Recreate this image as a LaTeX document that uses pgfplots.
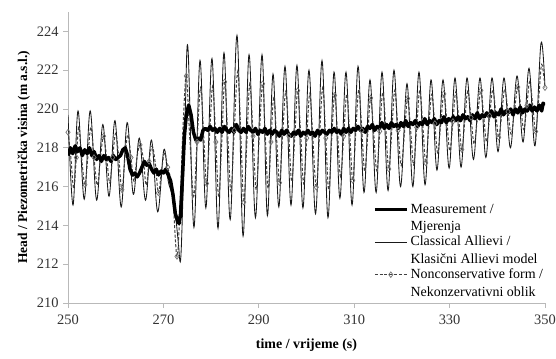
\documentclass[border=0pt]{standalone}
\usepackage{fontspec}
\setmainfont{Liberation Serif}
\usepackage{pgfplots}
\pgfplotsset{compat=1.18}
\begin{document}
\begin{tikzpicture}
\begin{axis}[name=ax, scale only axis, width=477bp, height=291bp,
  xmin=250, xmax=350, ymin=210, ymax=225,
  xtick={250,270,...,350}, ytick={210,212,...,224},
  axis lines=left, axis line style={-, draw=gray!55, line width=0.8bp},
  tick style={draw=gray!55, line width=0.8bp}, major tick length=5bp, tick align=outside,
  /pgf/number format/assume math mode=true, /pgf/number format/set thousands separator={},
  tick label style={font=\fontsize{14.5}{16}\selectfont, text=black!80},
  xticklabel style={yshift=-3bp},
  yticklabel style={xshift=-1bp},
  xlabel={time / vrijeme (s)},
  xlabel style={font=\bfseries\fontsize{14}{16}\selectfont, yshift=-8bp},
  ylabel={Head / Piezometrička visina (m a.s.l.)},
  ylabel style={font=\bfseries\fontsize{13.5}{15}\selectfont},
  legend style={draw=none, fill=none, at={(rel axis cs:1,0.012)}, anchor=south east,
    font=\fontsize{14}{17.5}\selectfont, inner sep=0pt, outer sep=0pt,
    cells={anchor=west, align=left}, row sep=0pt},
  legend image code/.code={\draw[yshift=8.5bp, mark repeat=2,mark phase=2,#1] plot coordinates {(0bp,0bp) (16bp,0bp) (32bp,0bp)};},
]
% Classical Allievi
\addplot[forget plot, black!90, line width=0.85bp, smooth, tension=0.6] table {
t h
250.00 219.7
251.05 215.05
252.10 219.9
253.40 215.35
254.65 219.9
256.00 215.3
257.30 219.2
258.60 215.5
259.85 219.4
261.15 214.95
262.40 219.3
263.70 215.6
264.95 218.5
266.25 215.3
267.50 218.4
268.80 214.7
270.10 217.9
271.00 216.3
271.80 215.6
272.50 214.6
273.10 213.2
273.60 212.2
274.10 215.5
274.60 220.0
275.16 223.1
276.40 213.9
277.67 222.5
278.90 214.9
280.19 222.6
281.45 213.85
282.70 222.9
284.00 214.3
285.43 223.8
286.70 213.45
287.95 222.8
289.30 214.4
290.67 222.8
291.80 214.5
292.98 221.8
294.20 214.95
295.49 222.2
296.75 215.05
298.00 222.25
299.25 214.9
300.52 222.0
301.90 214.6
303.25 222.5
304.50 214.4
305.77 221.9
307.00 215.4
308.28 221.9
309.55 215.05
310.80 222.2
312.05 215.7
313.31 221.5
314.60 215.7
315.83 221.9
317.10 215.8
318.34 222.0
319.70 216.0
321.07 221.3
322.30 216.0
323.58 221.9
324.85 216.1
326.10 221.5
327.35 216.85
328.62 221.5
329.90 216.95
331.13 221.6
332.40 217.0
333.65 221.6
335.00 217.4
336.37 221.6
337.60 217.5
338.89 221.6
340.15 217.8
341.40 221.6
342.75 218.0
344.13 221.7
345.40 218.3
346.65 222.1
347.90 218.1
349.16 223.4
350.00 221.1
};
% Nonconservative form
\addplot[forget plot, black!75, line width=1bp, dash pattern=on 3bp off 1.8bp, smooth, tension=0.6,
  mark=diamond, mark repeat=3, mark size=2.8bp, mark options={solid, draw=gray!90!black, fill=white, line width=0.7bp}] table {
t h
250.00 218.8
250.60 217.5
251.20 215.9
251.75 217.5
252.25 219.06
252.85 217.5
253.55 216.1
254.15 217.5
254.80 219.06
255.45 217.5
256.15 216.07
256.80 217.5
257.45 218.6
258.10 217.5
258.75 216.2
259.35 217.5
260.00 218.74
260.65 217.5
261.30 215.84
261.95 217.5
262.55 218.67
263.20 217.5
263.85 216.27
264.45 217.5
265.10 218.15
265.75 217.5
266.40 216.07
267.00 217.3
267.65 218.1
268.30 217.2
268.95 215.68
269.60 216.8
270.25 217.76
270.90 217.0
271.50 216.4
272.10 215.0
272.85 212.4
273.50 215.0
274.10 219.0
274.80 221.7
275.50 218.6
276.35 215.5
277.05 218.3
277.80 221.1
278.45 218.6
279.05 216.16
279.70 218.7
280.35 221.2
281.00 218.3
281.60 215.48
282.25 218.4
282.85 221.4
283.50 218.6
284.15 215.77
284.85 218.9
285.60 221.95
286.25 218.6
286.85 215.2
287.50 218.3
288.10 221.3
288.80 218.6
289.45 215.83
290.10 218.6
290.80 221.3
291.35 218.6
291.95 215.9
292.55 218.3
293.15 220.65
293.75 218.4
294.35 216.2
294.95 218.5
295.65 220.9
296.30 218.6
296.90 216.26
297.55 218.6
298.15 220.95
298.80 218.6
299.40 216.16
300.05 218.5
300.70 220.8
301.35 218.4
302.05 215.97
302.70 218.5
303.40 221.1
304.05 218.5
304.65 215.83
305.25 218.3
305.90 220.7
306.55 218.6
307.15 216.51
307.80 218.6
308.45 220.76
309.10 218.55
309.70 216.32
310.30 218.65
310.95 220.99
311.60 218.9
312.20 216.78
312.85 218.7
313.45 220.57
314.10 218.7
314.75 216.81
315.35 218.85
316.00 220.86
316.65 218.9
317.25 216.91
317.90 218.95
318.50 220.96
319.20 218.9
319.85 217.08
320.55 218.8
321.20 220.54
321.85 218.85
322.45 217.12
323.10 219.05
323.75 220.97
324.40 219.1
325.00 217.22
325.60 218.98
326.25 220.75
326.90 219.25
327.50 217.74
328.15 219.26
328.80 220.78
329.45 219.3
330.05 217.84
330.70 219.36
331.30 220.88
331.95 219.4
332.55 217.91
333.20 219.41
333.80 220.92
334.50 219.56
335.15 218.2
335.85 219.58
336.55 220.96
337.15 219.63
337.75 218.3
338.40 219.65
339.05 220.99
339.70 219.76
340.30 218.54
340.95 219.78
341.55 221.03
342.25 219.86
342.90 218.7
343.60 219.91
344.30 221.13
344.95 220.03
345.55 218.94
346.20 220.18
346.80 221.42
347.45 220.13
348.05 218.84
348.70 220.57
349.30 222.3
350.00 221.1
};
% Measurement
\addplot[forget plot, black, line width=3.5bp, line join=round] table {
t h
250.0 217.6
250.5 218.0
251.0 217.7
251.5 218.1
252.0 217.8
252.5 218.0
253.0 217.6
253.5 217.9
254.0 217.7
254.5 218.0
255.0 217.6
255.5 217.8
256.0 217.4
256.5 217.6
257.0 217.3
257.5 217.6
258.0 217.4
258.5 217.5
259.0 217.3
259.5 217.6
260.0 217.4
260.5 217.5
261.0 217.6
261.5 217.9
262.0 218.0
262.5 217.6
263.0 216.9
263.5 216.6
264.0 216.7
264.5 216.5
265.0 216.7
265.5 217.0
266.0 217.3
266.5 217.1
267.0 217.2
267.5 216.9
268.0 216.7
268.5 216.9
269.0 216.6
269.5 216.8
270.0 216.7
270.5 216.9
271.0 216.6
271.5 216.3
272.0 215.6
272.5 214.6
273.0 214.2
273.3 214.1
273.6 214.6
274.0 216.5
274.4 218.6
274.8 219.7
275.3 220.2
275.8 219.7
276.3 218.8
276.8 218.4
277.3 218.5
277.8 218.4
278.3 218.9
278.8 219.0
279.3 218.9
279.8 219.1
280.3 218.9
280.8 219.0
281.3 218.8
281.8 219.0
282.3 218.8
282.8 219.1
283.3 218.9
283.8 218.8
284.3 219.0
284.8 218.8
285.3 219.2
285.8 218.9
286.3 218.8
286.8 219.0
287.3 218.8
287.8 219.1
288.3 218.9
288.8 218.8
289.3 219.0
289.8 218.7
290.3 218.9
290.8 218.8
291.3 219.0
291.8 218.7
292.3 218.9
292.8 218.7
293.3 218.9
293.8 218.8
294.3 218.6
294.8 218.9
295.3 218.7
295.8 218.9
296.3 218.7
296.8 218.6
297.3 218.8
297.8 218.7
298.3 218.9
298.8 218.6
299.3 218.8
299.8 218.7
300.3 218.9
300.8 218.7
301.3 218.8
301.8 218.6
302.3 218.9
302.8 218.7
303.3 218.9
303.8 218.8
304.3 218.7
304.8 218.9
305.3 218.8
305.8 219.0
306.3 218.8
306.8 218.9
307.3 218.7
307.8 219.0
308.3 218.8
308.8 219.0
309.3 218.8
309.8 219.0
310.3 218.9
310.8 219.1
311.3 218.9
311.8 219.0
312.3 218.8
312.8 219.1
313.3 219.0
313.8 219.2
314.3 218.9
314.8 219.1
315.3 219.0
315.8 219.3
316.3 219.0
316.8 219.2
317.3 219.0
317.8 219.3
318.3 219.1
318.8 219.2
319.3 219.0
319.8 219.3
320.3 219.1
320.8 219.4
321.3 219.1
321.8 219.3
322.3 219.2
322.8 219.4
323.3 219.1
323.8 219.3
324.3 219.2
324.8 219.5
325.3 219.2
325.8 219.4
326.3 219.3
326.8 219.5
327.3 219.2
327.8 219.4
328.3 219.3
328.8 219.6
329.3 219.3
329.8 219.5
330.3 219.4
330.8 219.6
331.3 219.4
331.8 219.6
332.3 219.4
332.8 219.7
333.3 219.5
333.8 219.6
334.3 219.4
334.8 219.7
335.3 219.5
335.8 219.8
336.3 219.5
336.8 219.7
337.3 219.6
337.8 219.8
338.3 219.6
338.8 219.9
339.3 219.6
339.8 219.8
340.3 219.7
340.8 220.0
341.3 219.7
341.8 219.9
342.3 219.8
342.8 220.0
343.3 219.7
343.8 220.0
344.3 219.8
344.8 220.1
345.3 219.8
345.8 220.0
346.3 219.9
346.8 220.2
347.3 219.9
347.8 220.1
348.3 219.9
348.8 220.2
349.3 219.9
349.6 220.3
350.0 220.2
};
\addlegendimage{black, line width=3.5bp}
\addlegendentry{Measurement /\\Mjerenja}
\addlegendimage{black!90, line width=0.85bp}
\addlegendentry{Classical Allievi /\\Klasični Allievi model}
\addlegendimage{black!75, line width=1bp, dash pattern=on 3bp off 1.8bp, mark=diamond, mark size=2.8bp, mark options={solid, draw=gray!90!black, fill=white, line width=0.7bp}}
\addlegendentry{Nonconservative form /\\Nekonzervativni oblik}
\end{axis}
\pgfresetboundingbox
\path ([shift={(-68bp,-56bp)}]ax.south west) rectangle ([shift={(11bp,12bp)}]ax.north east);
\end{tikzpicture}
\end{document}
